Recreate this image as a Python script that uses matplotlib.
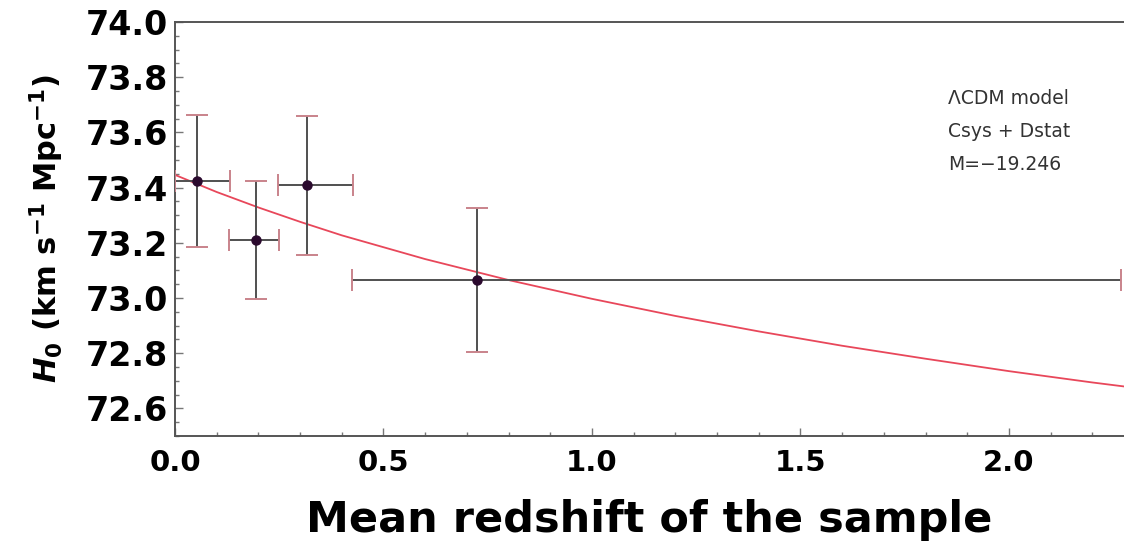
import numpy as np
import matplotlib.pyplot as plt
from matplotlib.ticker import MultipleLocator

# binned H0 measurements
z_mean = [0.052, 0.194, 0.316, 0.724]
z_lo = [0.0, 0.130, 0.246, 0.424]
z_hi = [0.132, 0.250, 0.426, 2.268]
h0 = [73.425, 73.210, 73.409, 73.065]
h0_err = [0.239, 0.215, 0.252, 0.262]

# model curve
z_curve = [0.0, 0.1, 0.2, 0.3, 0.4, 0.6, 0.8, 1.0, 1.2, 1.4, 1.6, 1.8, 2.0, 2.2, 2.3]
h_curve = [73.446, 73.384, 73.328, 73.276, 73.227, 73.141, 73.065, 72.997,
           72.935, 72.879, 72.827, 72.780, 72.735, 72.694, 72.675]

note_lines = ["\u039bCDM model", "Csys + Dstat", "M=\u221219.246"]

fig = plt.figure(figsize=(11.24, 5.55), dpi=100)
ax = fig.add_axes([0.1557, 0.2144, 0.8443, 0.746])

ax.plot(z_curve, h_curve, color="#e8475a", lw=1.3, zorder=2)

xerr = [np.array(z_mean) - np.array(z_lo), np.array(z_hi) - np.array(z_mean)]
eb = ax.errorbar(z_mean, h0, yerr=h0_err, xerr=xerr, fmt="o", ms=6.5,
                 color="#2b0a2e", ecolor="#505050", elinewidth=1.4,
                 capsize=8, capthick=1.4, zorder=3)
for cap in eb[1]:
    cap.set_markeredgecolor("#c9838b")

ax.set_xlim(0, 2.276)
ax.set_ylim(72.5, 74.0)
ax.xaxis.set_major_locator(MultipleLocator(0.5))
ax.xaxis.set_minor_locator(MultipleLocator(0.1))
ax.yaxis.set_major_locator(MultipleLocator(0.2))
ax.yaxis.set_minor_locator(MultipleLocator(0.05))
ax.xaxis.set_major_formatter(plt.FormatStrFormatter("%.1f"))
ax.yaxis.set_major_formatter(plt.FormatStrFormatter("%.1f"))

ax.tick_params(which="both", direction="in", color="#777777", width=1)
ax.tick_params(which="major", length=6)
ax.tick_params(which="minor", length=3)
ax.tick_params(axis="x", labelsize=21, pad=9)
ax.tick_params(axis="y", labelsize=24, pad=5)
for lab in ax.get_xticklabels() + ax.get_yticklabels():
    lab.set_fontweight("bold")

for s in ["left", "bottom", "top"]:
    ax.spines[s].set_color("#555555")
    ax.spines[s].set_linewidth(1.4)
ax.spines["right"].set_visible(False)

ax.set_xlabel("Mean redshift of the sample", fontsize=31, fontweight="bold", labelpad=16)
ax.set_ylabel(r"$\mathbfit{H}_{\mathbf{0}}$ (km s$^{\mathbf{-1}}$ Mpc$^{\mathbf{-1}}$)",
              fontsize=22, fontweight="bold", labelpad=14)

for i, t in enumerate(note_lines):
    ax.text(0.815, 0.815 - i * 0.08, t, transform=ax.transAxes,
            fontsize=13.5, color="#333333", va="center")

fig.savefig("out.png", dpi=100)
